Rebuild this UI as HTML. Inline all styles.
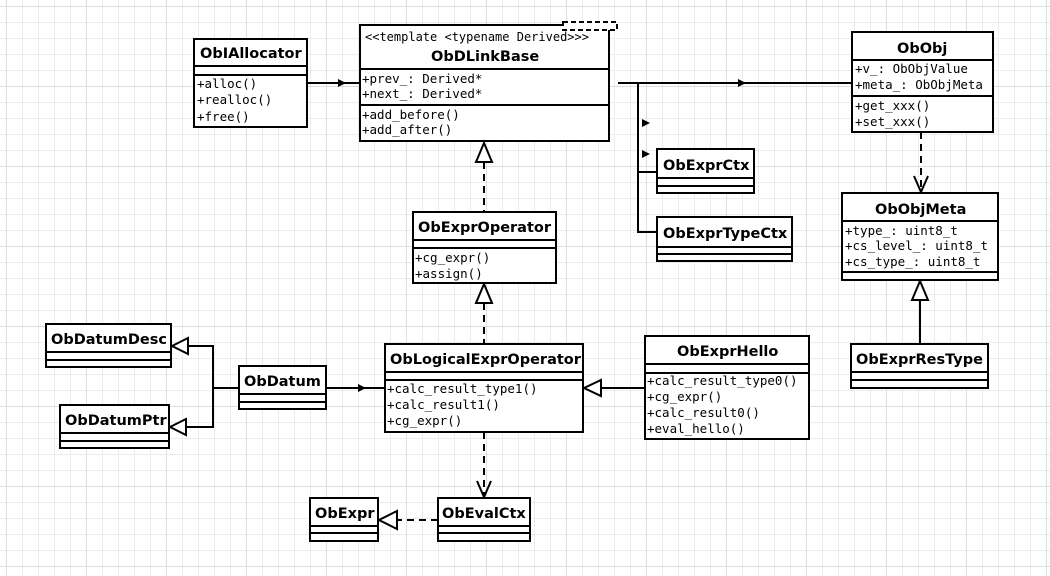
<!DOCTYPE html>
<html><head><meta charset="utf-8"><style>
html,body{margin:0;padding:0;}
body{width:1050px;height:576px;overflow:hidden;background:#fff;
background-image:
linear-gradient(to right,#d8e0e0 1px,transparent 1px),
linear-gradient(to bottom,#d8e0e0 1px,transparent 1px),
repeating-linear-gradient(to right,#e8eeee 0 1px,transparent 1px 16px),
repeating-linear-gradient(to bottom,#e8eeee 0 1px,transparent 1px 16px);
background-size:80px 80px,80px 80px,auto,auto;background-position:6px 6px;}
svg{position:absolute;left:0;top:0;}
.t{font-family:"DejaVu Sans","Liberation Sans",sans-serif;font-weight:bold;font-size:14.5px;fill:#000;}
.m{font-family:"DejaVu Sans Mono","Liberation Mono",monospace;font-size:12.5px;fill:#000;}
.b{fill:#fff;stroke:#000;stroke-width:2;}
.l{stroke:#000;stroke-width:2;fill:none;}
.d{stroke:#000;stroke-width:2;fill:none;stroke-dasharray:7,5;}
</style></head><body>
<svg width="1050" height="576" viewBox="0 0 1050 576">
<!-- connectors -->
<path class="l" d="M308 83H360"/><path d="M338 79l8 4-8 4z"/>
<path class="l" d="M618 83H852"/><path d="M738 79l8 4-8 4z"/>
<path class="l" d="M638 83V232H657M638 172H657"/>
<path d="M642 119l8 4-8 4z"/><path d="M642 150l8 4-8 4z"/>
<path class="d" d="M921 132V192"/><path class="l" d="M914 176l7 16 7-16"/>
<path class="d" d="M484 162V212"/><path class="b" d="M484 143l-8 19h16z"/>
<path class="d" d="M484 303V344"/><path class="b" d="M484 284l-8 19h16z"/>
<path class="l" d="M920 300V344"/><path class="b" d="M920 281l-8 19h16z"/>
<path class="l" d="M645 388H600"/><path class="b" d="M584 388l17-8v16z"/>
<path class="l" d="M326 388H385"/><path d="M358 384l8 4-8 4z"/>
<path class="l" d="M239 388H213M188 346H213V427H187"/>
<path class="b" d="M172 346l16-8v16z"/><path class="b" d="M170 427l16-8v16z"/>
<path class="d" d="M484 432V497"/><path class="l" d="M477 481l7 16 7-16"/>
<path class="d" d="M438 520H397"/><path class="b" d="M379 520l18-9v18z"/>

<!-- ObIAllocator -->
<rect class="b" x="194" y="39" width="113" height="88"/>
<path class="l" d="M194 66H307M194 75H307"/>
<text class="t" x="200" y="58">ObIAllocator</text>
<text class="m" x="197" y="88">+alloc()</text><text class="m" x="197" y="104">+realloc()</text><text class="m" x="197" y="121">+free()</text>

<!-- ObDLinkBase -->
<rect class="b" x="360" y="25" width="249" height="116"/>
<path class="l" d="M360 69H609M360 105H609"/>
<rect x="563" y="22" width="54" height="8" fill="#fff" stroke="#000" stroke-width="2" stroke-dasharray="5,3"/>
<text class="m" x="365" y="41" style="font-size:12px">&lt;&lt;template &lt;typename Derived&gt;&gt;&gt;</text>
<text class="t" x="431" y="61">ObDLinkBase</text>
<text class="m" x="362" y="83">+prev_: Derived*</text><text class="m" x="362" y="98">+next_: Derived*</text>
<text class="m" x="362" y="119">+add_before()</text><text class="m" x="362" y="134">+add_after()</text>

<!-- ObObj -->
<rect class="b" x="852" y="32" width="141" height="100"/>
<path class="l" d="M852 60H993M852 96H993"/>
<text class="t" x="897" y="53">ObObj</text>
<text class="m" x="855" y="73">+v_: ObObjValue</text><text class="m" x="855" y="89">+meta_: ObObjMeta</text>
<text class="m" x="855" y="110">+get_xxx()</text><text class="m" x="855" y="126">+set_xxx()</text>

<!-- ObExprCtx -->
<rect class="b" x="657" y="149" width="97" height="44"/>
<path class="l" d="M657 178H754M657 186H754"/>
<text class="t" x="663" y="170">ObExprCtx</text>

<!-- ObExprTypeCtx -->
<rect class="b" x="657" y="217" width="135" height="44"/>
<path class="l" d="M657 247H792M657 254H792"/>
<text class="t" x="663" y="238">ObExprTypeCtx</text>

<!-- ObObjMeta -->
<rect class="b" x="842" y="193" width="156" height="87"/>
<path class="l" d="M842 221H998M842 272H998"/>
<text class="t" x="875" y="214">ObObjMeta</text>
<text class="m" x="845" y="235">+type_: uint8_t</text><text class="m" x="845" y="250">+cs_level_: uint8_t</text><text class="m" x="845" y="266">+cs_type_: uint8_t</text>

<!-- ObExprOperator -->
<rect class="b" x="413" y="212" width="143" height="71"/>
<path class="l" d="M413 240H556M413 248H556"/>
<text class="t" x="418" y="232">ObExprOperator</text>
<text class="m" x="415" y="262">+cg_expr()</text><text class="m" x="415" y="278">+assign()</text>

<!-- ObExprResType -->
<rect class="b" x="851" y="344" width="137" height="44"/>
<path class="l" d="M851 372H988M851 380H988"/>
<text class="t" x="856" y="364">ObExprResType</text>

<!-- ObLogicalExprOperator -->
<rect class="b" x="385" y="344" width="198" height="88"/>
<path class="l" d="M385 372H583M385 380H583"/>
<text class="t" x="390" y="364">ObLogicalExprOperator</text>
<text class="m" x="387" y="393">+calc_result_type1()</text><text class="m" x="387" y="409">+calc_result1()</text><text class="m" x="387" y="425">+cg_expr()</text>

<!-- ObExprHello -->
<rect class="b" x="645" y="336" width="164" height="103"/>
<path class="l" d="M645 364H809M645 373H809"/>
<text class="t" x="677" y="356">ObExprHello</text>
<text class="m" x="647" y="385">+calc_result_type0()</text><text class="m" x="647" y="401">+cg_expr()</text><text class="m" x="647" y="417">+calc_result0()</text><text class="m" x="647" y="433">+eval_hello()</text>

<!-- ObDatumDesc -->
<rect class="b" x="46" y="324" width="125" height="43"/>
<path class="l" d="M46 352H171M46 360H171"/>
<text class="t" x="51" y="344">ObDatumDesc</text>

<!-- ObDatumPtr -->
<rect class="b" x="60" y="405" width="109" height="43"/>
<path class="l" d="M60 433H169M60 441H169"/>
<text class="t" x="65" y="425">ObDatumPtr</text>

<!-- ObDatum -->
<rect class="b" x="239" y="366" width="87" height="43"/>
<path class="l" d="M239 394H326M239 402H326"/>
<text class="t" x="244" y="386">ObDatum</text>

<!-- ObExpr -->
<rect class="b" x="310" y="498" width="68" height="43"/>
<path class="l" d="M310 526H378M310 533H378"/>
<text class="t" x="315" y="518">ObExpr</text>

<!-- ObEvalCtx -->
<rect class="b" x="438" y="498" width="92" height="43"/>
<path class="l" d="M438 526H530M438 533H530"/>
<text class="t" x="442" y="518">ObEvalCtx</text>
</svg>
</body></html>
